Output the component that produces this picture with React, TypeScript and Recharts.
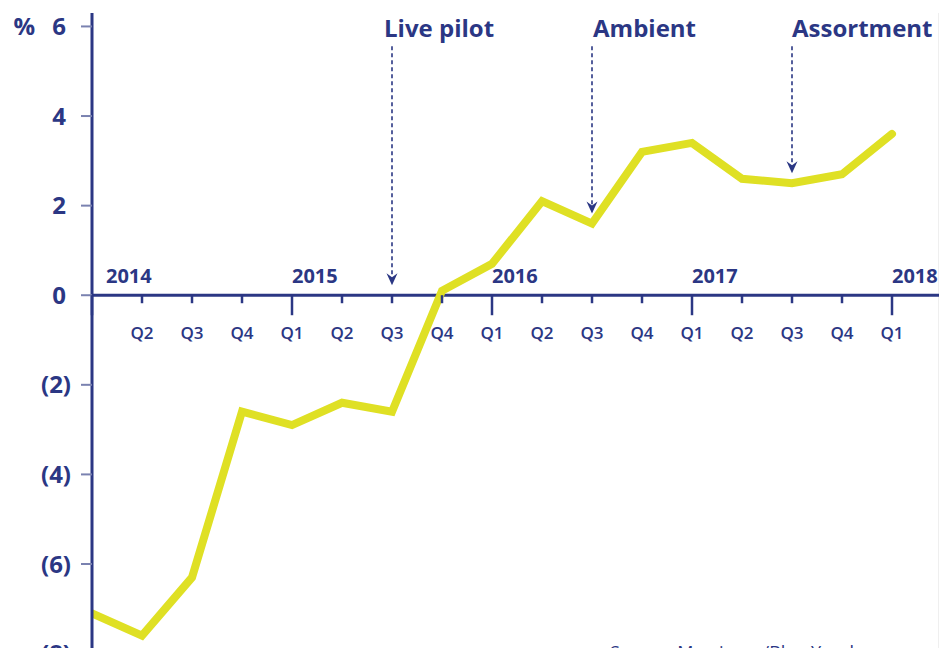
import React from 'react';
import { LineChart, Line, XAxis, YAxis, CartesianGrid, ReferenceLine, ReferenceDot } from 'recharts';

const quarterLabels = ['Q1', 'Q2', 'Q3', 'Q4', 'Q1', 'Q2', 'Q3', 'Q4', 'Q1', 'Q2', 'Q3', 'Q4', 'Q1', 'Q2', 'Q3', 'Q4', 'Q1'];
const yearLabels = ['2014', '2015', '2016', '2017', '2018'];
const changeValues = [-7.1, -7.6, -6.3, -2.6, -2.9, -2.4, -2.6, 0.1, 0.7, 2.1, 1.6, 3.2, 3.4, 2.6, 2.5, 2.7, 3.6];
const annotationLabels = ['Live pilot', 'Ambient', 'Assortment'];
const annotationQuarter = [6, 10, 14];
const annotationTarget = [0, 1.6, 2.5];
const yTickValues = [-8, -6, -4, -2, 0, 2, 4, 6];
const sourceNote = 'Source: Morrisons/Blue Yonder';

const NAVY = '#2b3784';
const YELLOW = '#dfe024';
const GRID = '#eaeaea';
const FONT = '"Open Sans", "Noto Sans", sans-serif';

const data = changeValues.map((v, i) => ({ i, v }));
const quarterIdx = quarterLabels.map((_, i) => i);
const annotationTextShift = [-8, 1, 0];

function renderQuarter(p: any, i: number) {
  const { cx, cy } = p;
  const isYear = i % 4 === 0;
  return (
    <g>
      <line x1={cx} x2={cx} y1={cy} y2={cy + (isYear ? 20 : 8)} stroke={NAVY} strokeWidth={2.5} />
      {i > 0 && (
        <text x={cx} y={cy + 44} textAnchor="middle" fontSize={17} fontWeight={600} fill={NAVY} fontFamily={FONT}>
          {quarterLabels[i]}
        </text>
      )}
      {isYear && (
        <text x={cx + (i === 0 ? 14 : 0)} y={cy - 12} textAnchor="start" fontSize={20} fontWeight={700} fill={NAVY} fontFamily={FONT}>
          {yearLabels[i / 4]}
        </text>
      )}
    </g>
  );
}

function renderArrowHead(p: any) {
  const { cx, cy } = p;
  const tip = cy - 10;
  return (
    <path d={`M${cx},${tip} L${cx - 5.5},${tip - 12} L${cx},${tip - 8} L${cx + 5.5},${tip - 12} Z`} fill={NAVY} />
  );
}

function renderAnnotationText(p: any, k: number) {
  const { cx, cy } = p;
  return (
    <text x={cx + annotationTextShift[k]} y={cy + 11} textAnchor="start" fontSize={24} fontWeight={700} fill={NAVY} fontFamily={FONT}>
      {annotationLabels[k]}
    </text>
  );
}

const YTick = (props: any) => {
  const { x, y, payload } = props;
  const v = payload.value;
  const label = v < 0 ? `(${-v})` : `${v}`;
  return (
    <g>
      {v === 6 && (
        <text x={x - 31} y={y + 8.5} textAnchor="end" fontSize={24} fontWeight={700} fill={NAVY} fontFamily={FONT}>
          %
        </text>
      )}
      <text x={v < 0 ? x + 5 : x} y={y + 8.5} textAnchor="end" fontSize={24} fontWeight={700} fill={NAVY} fontFamily={FONT}>
        {label}
      </text>
    </g>
  );
};

export default function App() {
  return (
    <div
      style={{
        position: 'absolute',
        left: 0,
        top: 0,
        width: 939,
        height: 648,
        overflow: 'hidden',
        background: '#ffffff',
        fontFamily: FONT,
      }}
    >
      <LineChart width={939} height={700} data={data} margin={{ top: 13, right: 0, left: 0, bottom: 24 }}>
        <CartesianGrid horizontal={false} vertical stroke={GRID} strokeWidth={1.5} />
        <XAxis
          dataKey="i"
          type="number"
          domain={[0, 16.94]}
          allowDataOverflow
          ticks={quarterIdx}
          tick={false}
          axisLine={false}
          tickLine={false}
          height={0}
        />
        <YAxis
          type="number"
          domain={[-8.5, 6.3]}
          allowDataOverflow
          ticks={yTickValues}
          width={92}
          axisLine={{ stroke: NAVY, strokeWidth: 3 }}
          tickLine={{ stroke: '#7a82b0', strokeWidth: 2 }}
          tickSize={11}
          tickMargin={15}
          tick={<YTick />}
        />
        <ReferenceLine y={0} stroke={NAVY} strokeWidth={3} />
        {quarterIdx.map((i) => (
          <ReferenceDot key={`q${i}`} x={i} y={0} r={0} shape={(p: any) => renderQuarter(p, i)} />
        ))}
        <Line
          type="linear"
          dataKey="v"
          stroke={YELLOW}
          strokeWidth={8}
          dot={false}
          activeDot={false}
          strokeLinecap="round"
          isAnimationActive={false}
        />
        {annotationQuarter.map((q, k) => (
          <ReferenceLine
            key={`as${k}`}
            segment={[
              { x: q, y: 5.56 },
              { x: q, y: annotationTarget[k] + 0.4 },
            ]}
            stroke={NAVY}
            strokeWidth={1.6}
            strokeDasharray="4 3"
          />
        ))}
        {annotationQuarter.map((q, k) => (
          <ReferenceDot key={`ah${k}`} x={q} y={annotationTarget[k]} r={0} shape={renderArrowHead} />
        ))}
        {annotationQuarter.map((q, k) => (
          <ReferenceDot key={`at${k}`} x={q} y={6} r={0} shape={(p: any) => renderAnnotationText(p, k)} />
        ))}
      </LineChart>
      <div
        style={{
          position: 'absolute',
          left: 610,
          top: 643,
          fontSize: 18,
          lineHeight: '18px',
          color: NAVY,
          whiteSpace: 'nowrap',
          fontFamily: FONT,
        }}
      >
        {sourceNote}
      </div>
    </div>
  );
}
